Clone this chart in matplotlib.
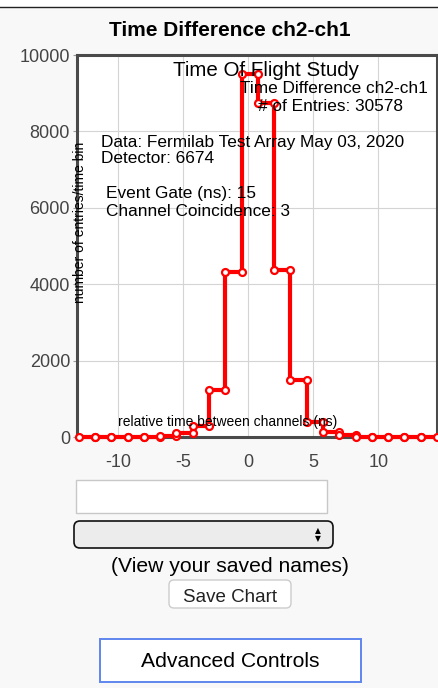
import numpy as np
import matplotlib
matplotlib.use("Agg")
import matplotlib.pyplot as plt
from matplotlib.patches import Rectangle, FancyBboxPatch
from matplotlib.lines import Line2D

plt.rcParams['font.family'] = ['Liberation Sans', 'DejaVu Sans']
plt.rcParams['axes.unicode_minus'] = False

# histogram (bin edges in ns, entries per bin)
edges = [-13.0, -11.75, -10.5, -9.25, -8.0, -6.75, -5.5, -4.25, -3.0, -1.75, -0.5,
         0.75, 2.0, 3.25, 4.5, 5.75, 7.0, 8.25, 9.5, 10.75, 12.0, 13.25, 14.5]
counts = [0, 0, 0, 0, 10, 30, 100, 300, 1230, 4330, 9490,
          8750, 4370, 1480, 390, 120, 40, 5, 0, 0, 0, 0]
xticks = [-10, -5, 0, 5, 10]
yticks = [0, 2000, 4000, 6000, 8000, 10000]

title = "Time Difference ch2-ch1"
info_top = ["Time Difference ch2-ch1", "# of Entries: 30578"]
info_data = ["Data: Fermilab Test Array May 03, 2020", "Detector: 6674"]
info_gate = ["Event Gate (ns): 15", "Channel Coincidence: 3"]

W, H = 439, 688
fig = plt.figure(figsize=(W / 100, H / 100), dpi=100, facecolor='#f8f8f8')

def box(l, t, r, b):
    return [l / W, 1 - b / H, (r - l) / W, (b - t) / H]

ax = fig.add_axes(box(77, 55, 437, 437))
ax.set_facecolor('white')

xs = np.repeat(edges, 2)[1:-1]
ys = np.repeat(counts, 2)
ax.plot(xs, ys, color='#ff0000', lw=3, marker='o', ms=5, mfc='white',
        mec='#ff0000', mew=1.6, clip_on=False, zorder=3)

ax.set_xlim(-13.13, 14.5)
ax.set_ylim(0, 10000)
ax.set_xticks(xticks)
ax.set_yticks(yticks)
ax.grid(True, color='#d4d4d4', lw=0.8)
ax.set_axisbelow(True)
for s in ax.spines.values():
    s.set_color('#4a4a4a')
    s.set_linewidth(2.2)
ax.tick_params(axis='y', length=3, width=0.8, color='#999999', pad=2,
               labelsize=13, labelcolor='#444444')
ax.tick_params(axis='x', length=0, pad=12, labelsize=13, labelcolor='#444444')

# overlay in pixel coordinates for labels and page widgets
ov = fig.add_axes([0, 0, 1, 1], zorder=5)
ov.set_xlim(0, W)
ov.set_ylim(H, 0)
ov.axis('off')
ov.patch.set_alpha(0)

ov.add_patch(Rectangle((0, 0), W, 6.5, color='white', lw=0))
ov.add_line(Line2D([0, W], [7, 7], color='#222222', lw=1))

ov.text(230, 36, title, ha='center', va='baseline', fontsize=15, fontweight='bold')
ov.text(266, 76, "Time Of Flight Study", ha='center', va='baseline', fontsize=14.8)
ov.text(334, 93, info_top[0], ha='center', va='baseline', fontsize=12.4)
ov.text(331, 111, info_top[1], ha='center', va='baseline', fontsize=12.4)
ov.text(101, 146.5, info_data[0], ha='left', va='baseline', fontsize=12.4)
ov.text(101, 163, info_data[1], ha='left', va='baseline', fontsize=12.4)
ov.text(106, 198, info_gate[0], ha='left', va='baseline', fontsize=12.4)
ov.text(106, 216, info_gate[1], ha='left', va='baseline', fontsize=12.4)
ov.text(228, 426, "relative time between channels (ns)", ha='center', va='baseline',
        fontsize=10)
ov.text(80, 222, "number of entries/time bin", ha='center', va='center',
        rotation=90, fontsize=10)

# text input
ov.add_patch(Rectangle((76, 480), 251, 33, facecolor='white', edgecolor='#c8c8c8', lw=1))
# select box
ov.add_patch(FancyBboxPatch((74, 521), 259, 27, boxstyle='round,pad=0,rounding_size=6',
                            facecolor='#ececec', edgecolor='#111111', lw=1.2))
ov.text(318, 531, "▲", ha='center', va='center', fontsize=5.5, family='DejaVu Sans')
ov.text(318, 539, "▼", ha='center', va='center', fontsize=5.5, family='DejaVu Sans')
ov.text(230, 571.5, "(View your saved names)", ha='center', va='baseline', fontsize=15.2)
# save button
ov.add_patch(FancyBboxPatch((169, 580), 122, 28, boxstyle='round,pad=0,rounding_size=5',
                            facecolor='white', edgecolor='#cccccc', lw=1))
ov.text(230, 601.5, "Save Chart", ha='center', va='baseline', fontsize=13.5,
        color='#222222')
# advanced controls
ov.add_patch(Rectangle((100, 639), 261, 43, facecolor='white', edgecolor='#5f86ee', lw=1.4))
ov.text(230, 667, "Advanced Controls", ha='center', va='baseline', fontsize=15.2)

fig.savefig('out.png', dpi=100, facecolor=fig.get_facecolor())
